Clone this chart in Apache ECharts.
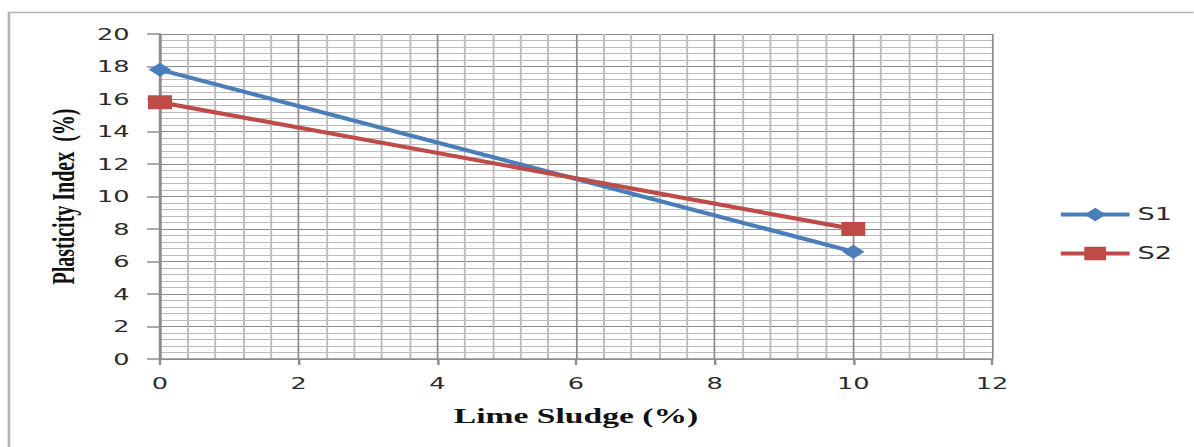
<!DOCTYPE html>
<html>
<head>
<meta charset="utf-8">
<script src="https://cdn.jsdelivr.net/npm/echarts@6/dist/echarts.min.js"></script>
<style>
html,body{margin:0;padding:0;background:#fff;overflow:hidden;width:1194px;height:447px;}
#c{width:746px;height:447px;transform:scaleX(1.6);transform-origin:0 0;}
</style>
</head>
<body>
<div id="c"></div>
<script>
// ---- data ----
const limeSludge = [0, 10];
const s1Values = [17.8, 6.6];
const s2Values = [15.8, 8.0];
const seriesNames = ['S1', 'S2'];
const xTickValues = [0, 2, 4, 6, 8, 10, 12];
const yTickValues = [0, 2, 4, 6, 8, 10, 12, 14, 16, 18, 20];
const xTitle = 'Lime Sludge (%)';
const yTitle = 'Plasticity Index  (%)';

const chart = echarts.init(document.getElementById('c'), null, {renderer: 'svg'});

const majorColor = '#8c8c8c';
const minorColor = '#bcbcbc';
const labelStyle = {fontFamily: 'DejaVu Sans', fontSize: 16, color: '#2b2b2b'};

function axisCommon(ticks) {
  return {
    type: 'value',
    min: ticks[0],
    max: ticks[ticks.length - 1],
    interval: ticks[1] - ticks[0],
    axisLine: {show: true, onZero: false, lineStyle: {color: majorColor, width: 1.5}},
    axisTick: {show: true, inside: false, lineStyle: {color: majorColor, width: 1.5}},
    splitLine: {show: true, lineStyle: {color: majorColor, width: 1.1}},
    minorTick: {show: false, splitNumber: 5},
    minorSplitLine: {show: true, lineStyle: {color: minorColor, width: 1.2}}
  };
}

const xAxis = Object.assign(axisCommon(xTickValues), {
  name: xTitle,
  nameLocation: 'middle',
  nameGap: 46,
  nameTextStyle: {fontFamily: 'Liberation Serif', fontWeight: 'bold', fontSize: 21, color: '#111'},
  axisLabel: Object.assign({margin: 16}, labelStyle)
});
xAxis.axisTick.length = 6;

const yAxis = Object.assign(axisCommon(yTickValues), {
  name: yTitle,
  nameLocation: 'middle',
  nameGap: 47,
  nameRotate: 90,
  nameTextStyle: {fontFamily: 'Liberation Serif', fontWeight: 'bold', fontSize: 20, color: '#111'},
  axisLabel: Object.assign({margin: 19}, labelStyle)
});
yAxis.axisTick.length = 8;

const colors = ['#4A7EBB', '#BE4B48'];
const symbols = ['diamond', 'rect'];
const values = [s1Values, s2Values];

chart.setOption({
  animation: false,
  backgroundColor: '#fff',
  grid: {left: 100, right: 126, top: 34, bottom: 88, containLabel: false},
  xAxis: xAxis,
  yAxis: yAxis,
  legend: {
    orient: 'vertical',
    left: 656,
    top: 201,
    itemWidth: 43,
    itemHeight: 17,
    itemGap: 22,
    lineStyle: {width: 4},
    textStyle: {fontFamily: 'DejaVu Sans', fontSize: 17, color: '#2b2b2b'},
    data: seriesNames
  },
  graphic: [{
    type: 'rect',
    silent: true,
    shape: {x: 5.6, y: 12.5, width: 900, height: 600},
    style: {fill: 'none', stroke: '#b4b4b4', lineWidth: 1.6}
  }],
  series: seriesNames.map((n, i) => ({
    name: n,
    type: 'line',
    data: limeSludge.map((x, j) => [x, values[i][j]]),
    symbol: symbols[i],
    symbolSize: i === 0 ? [14, 14] : [15, 14],
    showSymbol: true,
    lineStyle: {color: colors[i], width: 4},
    itemStyle: {color: colors[i]},
    z: 3 + i
  }))
});
</script>
</body>
</html>
